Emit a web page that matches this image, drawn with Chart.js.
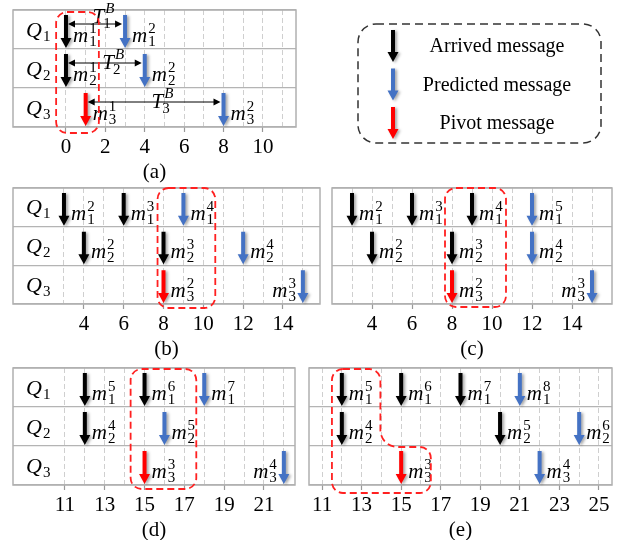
<!DOCTYPE html>
<html>
<head>
<meta charset="utf-8">
<script src="https://cdn.jsdelivr.net/npm/chart.js@4.4.1/dist/chart.umd.min.js"></script>
<style>
html, body { margin:0; padding:0; background:#fff; overflow:hidden; }
#wrap { position:relative; width:626px; height:540px; }
canvas { position:absolute; }
</style>
</head>
<body>
<div id="wrap">
  <canvas id="pa"></canvas>
  <canvas id="pb"></canvas>
  <canvas id="pc"></canvas>
  <canvas id="pd"></canvas>
  <canvas id="pe"></canvas>
</div>
<script>
// messages: [queue, index, time, kind]
const msgsA = [[1,1,0,'arrived'],[2,1,0,'arrived'],[3,1,1,'pivot'],[1,2,3,'predicted'],[2,2,4,'predicted'],[3,2,8,'predicted']];
const msgsB = [[1,2,3,'arrived'],[1,3,6,'arrived'],[1,4,9,'predicted'],[2,2,4,'arrived'],[2,3,8,'arrived'],[2,4,12,'predicted'],[3,2,8,'pivot'],[3,3,15,'predicted']];
const msgsC = [[1,2,3,'arrived'],[1,3,6,'arrived'],[1,4,9,'arrived'],[1,5,12,'predicted'],[2,2,4,'arrived'],[2,3,8,'arrived'],[2,4,12,'predicted'],[3,2,8,'pivot'],[3,3,15,'predicted']];
const msgsD = [[1,5,12,'arrived'],[1,6,15,'arrived'],[1,7,18,'predicted'],[2,4,12,'arrived'],[2,5,16,'predicted'],[3,3,15,'pivot'],[3,4,22,'predicted']];
const msgsE = [[1,5,12,'arrived'],[1,6,15,'arrived'],[1,7,18,'arrived'],[1,8,21,'predicted'],[2,4,12,'arrived'],[2,5,20,'arrived'],[2,6,24,'predicted'],[3,3,15,'pivot'],[3,4,22,'predicted']];

// T^B intervals in (a): [queue, from, to]
const spansA = [[1,0,3],[2,0,4],[3,1,8]];

// pivot windows (time units)
const winA = [-0.5, 1.67];
const winB = [7.7, 10.6];
const winC = [7.65, 10.7];
const winD = [14.3, 17.6];
const winE = [11.5, 13.95, 16.5];

// tick labels and grid extents
const ticksA = [0,2,4,6,8,10];
const ticksB = [4,6,8,10,12,14];
const ticksC = [4,6,8,10,12,14];
const ticksD = [11,13,15,17,19,21];
const ticksE = [11,13,15,17,19,21,23,25];
const gridA = [0, 11];
const gridB = [3, 15];
const gridC = [3, 15];
const gridD = [11, 22];
const gridE = [11, 25];

const queueNames = ['1','2','3'];
const kinds = ['arrived','predicted','pivot'];
const kindLabels = ['Arrived message','Predicted message','Pivot message'];
const kindColors = ['#000000','#4472C4','#FF0000'];

const panels = [
  {id:'pa', caption:'(a)', msgs:msgsA, spans:spansA, win:winA, ticks:ticksA, grid:gridA, range:[-2.69,11.68], box:[13,10,296,127], cv:[0,0,626,187], winPad:[2,6], queues:true, legend:true},
  {id:'pb', caption:'(b)', msgs:msgsB, win:winB, ticks:ticksB, grid:gridB, range:[0.44,15.86], box:[13,188,320,304], cv:[0,178,330,186], winPad:[0,4], queues:true},
  {id:'pc', caption:'(c)', msgs:msgsC, win:winC, ticks:ticksC, grid:gridC, range:[2.0,16.0], box:[332,188,612,304], cv:[322,178,300,186], winPad:[0,3], queues:false},
  {id:'pd', caption:'(d)', msgs:msgsD, win:winD, ticks:ticksD, grid:gridD, range:[8.39,22.56], box:[13,368,295,485], cv:[0,358,305,182], winPad:[1,4], queues:true},
  {id:'pe', caption:'(e)', msgs:msgsE, win:winE, ticks:ticksE, grid:gridE, range:[10.34,25.66], box:[309,368,612,485], cv:[299,358,323,182], winPad:[1,8], queues:false}
];

const SERIF = '"Liberation Serif", "Times New Roman", serif';

function drawArrow(ctx, x, y0, y1, color, shaft, headW, headL) {
  ctx.save();
  ctx.shadowColor = 'rgba(0,0,0,0.35)';
  ctx.shadowBlur = 3; ctx.shadowOffsetX = 2; ctx.shadowOffsetY = 1;
  ctx.fillStyle = color;
  ctx.beginPath();
  ctx.moveTo(x - shaft/2, y0);
  ctx.lineTo(x + shaft/2, y0);
  ctx.lineTo(x + shaft/2, y1 - headL);
  ctx.lineTo(x + headW/2, y1 - headL);
  ctx.lineTo(x, y1);
  ctx.lineTo(x - headW/2, y1 - headL);
  ctx.lineTo(x - shaft/2, y1 - headL);
  ctx.closePath();
  ctx.fill();
  ctx.restore();
}

// main letter with superscript/subscript, returns width
function mathText(ctx, x, base, o, measureOnly) {
  ctx.font = 'italic ' + o.size + 'px ' + SERIF;
  const wm = ctx.measureText(o.main).width;
  let wi = 0;
  if (o.sup) { ctx.font = (o.supItalic ? 'italic ' : '') + o.idx + 'px ' + SERIF; wi = Math.max(wi, ctx.measureText(o.sup).width); }
  if (o.sub) { ctx.font = o.idx + 'px ' + SERIF; wi = Math.max(wi, ctx.measureText(o.sub).width); }
  const w = wm + 1 + wi;
  if (measureOnly) return w;
  ctx.fillStyle = '#000';
  ctx.textBaseline = 'alphabetic';
  ctx.textAlign = 'left';
  ctx.font = 'italic ' + o.size + 'px ' + SERIF;
  ctx.fillText(o.main, x, base);
  if (o.sup) { ctx.font = (o.supItalic ? 'italic ' : '') + o.idx + 'px ' + SERIF; ctx.fillText(o.sup, x + wm + 1, base - o.up); }
  if (o.sub) { ctx.font = o.idx + 'px ' + SERIF; ctx.fillText(o.sub, x + wm + (o.sup && o.supItalic ? -1 : 1), base + o.down); }
  return w;
}

function roundRect(ctx, x0, y0, x1, y1, r) {
  ctx.beginPath();
  ctx.moveTo(x0 + r, y0);
  ctx.arcTo(x1, y0, x1, y1, r);
  ctx.arcTo(x1, y1, x0, y1, r);
  ctx.arcTo(x0, y1, x0, y0, r);
  ctx.arcTo(x0, y0, x1, y0, r);
  ctx.closePath();
}

function makePlugin(p) {
  return {
    id: 'panel_' + p.id,
    beforeDatasetsDraw(chart) {
      const {ctx, chartArea: ca} = chart;
      ctx.save();
      ctx.strokeStyle = '#b0b0b0';
      ctx.lineWidth = 1.5;
      ctx.strokeRect(ca.left, ca.top, ca.right - ca.left, ca.bottom - ca.top);
      ctx.restore();
    },
    afterDatasetsDraw(chart) {
      const {ctx, chartArea: ca} = chart;
      const xs = chart.scales.x, ys = chart.scales.y;

      // queue names
      if (p.queues) {
        queueNames.forEach((n, i) => {
          const yc = ys.getPixelForValue(2.5 - i);
          mathText(ctx, ca.left + 13, yc + 7, {main:'Q', sub:n, size:22, idx:15, down:4});
        });
      }

      // arrows + labels
      chart.data.datasets.forEach((ds, di) => {
        const meta = chart.getDatasetMeta(di);
        meta.data.forEach((el, i) => {
          const raw = ds.data[i];
          const top = ys.getPixelForValue(raw.y + 0.5);
          const bot = ys.getPixelForValue(raw.y - 0.5);
          drawArrow(ctx, el.x, top + 5, bot - 1, ds.borderColor, 4, 11, 10);
          const lab = {main:'m', sup:String(raw.j), sub:String(raw.q), size:21, idx:15, up:9, down:4};
          const w = mathText(ctx, 0, 0, lab, true);
          let lx = el.x + 7;
          if (lx + w > ca.right - 1) lx = el.x - 7 - w;
          mathText(ctx, lx, bot - 7, lab);
        });
      });

      // T^B spans
      if (p.spans) {
        p.spans.forEach(s => {
          const top = ys.getPixelForValue(3 - (s[0] - 1));
          const yl = top + 14;
          const x0 = xs.getPixelForValue(s[1]) + 2, x1 = xs.getPixelForValue(s[2]) - 3;
          ctx.save();
          ctx.strokeStyle = '#000'; ctx.fillStyle = '#000'; ctx.lineWidth = 1;
          ctx.beginPath(); ctx.moveTo(x0 + 4, yl); ctx.lineTo(x1 - 4, yl); ctx.stroke();
          ctx.beginPath(); ctx.moveTo(x0, yl); ctx.lineTo(x0 + 7, yl - 3.5); ctx.lineTo(x0 + 7, yl + 3.5); ctx.closePath(); ctx.fill();
          ctx.beginPath(); ctx.moveTo(x1, yl); ctx.lineTo(x1 - 7, yl - 3.5); ctx.lineTo(x1 - 7, yl + 3.5); ctx.closePath(); ctx.fill();
          ctx.restore();
          const mid = xs.getPixelForValue((s[1] + s[2]) / 2);
          mathText(ctx, mid - 3, yl + (s[0] === 1 ? -1 : 6), {main:'T', sup:'B', supItalic:true, sub:String(s[0]), size:21, idx:15, up:10, down:5});
        });
      }

      // pivot window
      ctx.save();
      ctx.strokeStyle = '#FF2020';
      ctx.lineWidth = 1.8;
      ctx.setLineDash([7, 4]);
      const wt = ca.top + p.winPad[0], wb = ca.bottom + p.winPad[1];
      if (p.win.length === 2) {
        roundRect(ctx, xs.getPixelForValue(p.win[0]), wt, xs.getPixelForValue(p.win[1]), wb, 11);
      } else {
        const L = xs.getPixelForValue(p.win[0]), R1 = xs.getPixelForValue(p.win[1]), R2 = xs.getPixelForValue(p.win[2]);
        const my = ys.getPixelForValue(1) + 1, r = 11, rc = 17;
        ctx.beginPath();
        ctx.moveTo(L + r, wt);
        ctx.arcTo(R1, wt, R1, my, r);
        ctx.arcTo(R1, my, R2, my, rc);
        ctx.arcTo(R2, my, R2, wb, r);
        ctx.arcTo(R2, wb, L, wb, r);
        ctx.arcTo(L, wb, L, wt, r);
        ctx.arcTo(L, wt, R1, wt, r);
        ctx.closePath();
      }
      ctx.stroke();
      ctx.restore();

      // caption
      ctx.save();
      ctx.fillStyle = '#000';
      ctx.font = '21px ' + SERIF;
      ctx.textAlign = 'center';
      ctx.textBaseline = 'middle';
      ctx.fillText(p.caption, (ca.left + ca.right) / 2, ca.bottom + 45);
      ctx.restore();

      // legend (panel a only)
      if (p.legend) {
        const ox = -p.cv[0], oy = -p.cv[1];
        ctx.save();
        ctx.strokeStyle = '#333';
        ctx.lineWidth = 1.5;
        ctx.setLineDash([8, 5]);
        roundRect(ctx, 358 + ox, 24 + oy, 601 + ox, 143 + oy, 18);
        ctx.stroke();
        ctx.restore();
        chart.data.datasets.forEach((ds, i) => {
          const y0 = 30 + i * 38.5 + oy;
          drawArrow(ctx, 393 + ox, y0, y0 + 32, ds.borderColor, 4, 11, 10);
          ctx.save();
          ctx.fillStyle = '#000';
          ctx.font = '20px ' + SERIF;
          ctx.textAlign = 'center';
          ctx.textBaseline = 'middle';
          ctx.fillText(ds.label, 497 + ox, y0 + 17);
          ctx.restore();
        });
      }
    }
  };
}

panels.forEach(p => {
  const cv = document.getElementById(p.id);
  cv.width = p.cv[2]; cv.height = p.cv[3];
  cv.style.left = p.cv[0] + 'px'; cv.style.top = p.cv[1] + 'px';
  cv.style.width = p.cv[2] + 'px'; cv.style.height = p.cv[3] + 'px';
  const padL = p.box[0] - p.cv[0], padT = p.box[1] - p.cv[1];
  const padR = p.cv[0] + p.cv[2] - p.box[2];
  const axisH = p.cv[1] + p.cv[3] - p.box[3];

  const datasets = kinds.map((k, i) => ({
    label: kindLabels[i],
    borderColor: kindColors[i],
    backgroundColor: kindColors[i],
    pointRadius: 0,
    data: p.msgs.filter(m => m[3] === k).map(m => ({x: m[2], y: 3.5 - m[0], q: m[0], j: m[1]}))
  }));

  new Chart(cv, {
    type: 'scatter',
    data: { datasets },
    options: {
      responsive: false,
      animation: false,
      events: [],
      layout: { padding: { left: padL, top: padT, right: padR, bottom: 0 } },
      plugins: { legend: { display: false }, tooltip: { enabled: false } },
      scales: {
        x: {
          type: 'linear',
          min: p.range[0], max: p.range[1],
          afterBuildTicks: s => {
            const t = [];
            for (let v = p.grid[0]; v <= p.grid[1]; v++) t.push({ value: v });
            s.ticks = t;
          },
          afterFit: s => { s.height = axisH; },
          ticks: {
            autoSkip: false, maxRotation: 0, padding: 3,
            color: '#000',
            font: { family: SERIF, size: 21 },
            callback: v => p.ticks.includes(v) ? String(v) : ''
          },
          grid: {
            color: c => (c.tick && c.tick.value > p.range[0]) ? '#cfcfcf' : 'transparent',
            lineWidth: 1,
            tickLength: 5,
            tickWidth: 1.2,
            tickColor: c => (c.tick && p.ticks.includes(c.tick.value)) ? '#999' : 'transparent'
          },
          border: { display: false, dash: [5, 3] }
        },
        y: {
          type: 'linear',
          min: 0, max: 3,
          afterFit: s => { s.width = 0; },
          ticks: { display: false, stepSize: 1 },
          grid: { color: '#b4b4b4', lineWidth: 1.3, drawTicks: false },
          border: { display: false }
        }
      }
    },
    plugins: [makePlugin(p)]
  });
});
</script>
</body>
</html>
